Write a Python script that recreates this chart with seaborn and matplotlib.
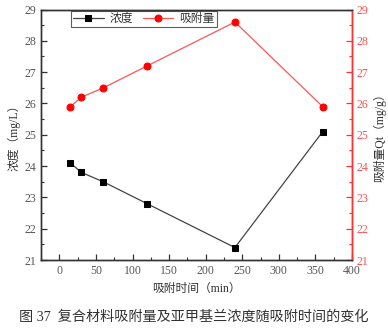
import matplotlib
matplotlib.use("Agg")
import matplotlib.pyplot as plt
import seaborn as sns
import pandas as pd
from matplotlib.ticker import MultipleLocator

# adsorption time (min)
time_min = [15, 30, 60, 120, 240, 360]
# methylene blue concentration (mg/L)
concentration = [24.1, 23.8, 23.5, 22.8, 21.4, 25.1]
# adsorption capacity Qt (mg/g)
capacity = [25.9, 26.2, 26.5, 27.2, 28.6, 25.9]

df = pd.DataFrame({"t": time_min, "c": concentration, "q": capacity})

sns.set_theme(style="white")
plt.rcParams["font.family"] = ["Liberation Serif", "Noto Sans CJK SC"]
plt.rcParams["axes.unicode_minus"] = False

fig = plt.figure(figsize=(3.88, 3.28), dpi=100)
ax = fig.add_axes([0.106, 0.207, 0.801, 0.764])
ax2 = ax.twinx()

sns.lineplot(data=df, x="t", y="c", ax=ax, color="#444444", lw=0.9,
             marker="s", markersize=4.5, markerfacecolor="black",
             markeredgecolor="black", label="浓度", legend=False)
sns.lineplot(data=df, x="t", y="q", ax=ax2, color="#ff5555", lw=0.9,
             marker="o", markersize=5, markerfacecolor="red",
             markeredgecolor="red", label="吸附量", legend=False)

ax.set_xlim(-25, 400)
ax.set_ylim(21, 29)
ax2.set_ylim(21, 29)
ax.xaxis.set_major_locator(MultipleLocator(50))
ax.xaxis.set_minor_locator(MultipleLocator(25))
ax.yaxis.set_major_locator(MultipleLocator(1))
ax.yaxis.set_minor_locator(MultipleLocator(0.5))
ax2.yaxis.set_major_locator(MultipleLocator(1))
ax2.yaxis.set_minor_locator(MultipleLocator(0.5))

for a in (ax, ax2):
    for s in a.spines.values():
        s.set_color("#333333")
        s.set_linewidth(1.0)
ax2.spines["right"].set_color("#ff3333")

ax.tick_params(axis="both", which="major", direction="in", length=4, width=0.9,
               colors="#333333", labelsize=8.5, labelcolor="#555555",
               bottom=True, left=True, top=False, right=False)
ax.tick_params(axis="both", which="minor", direction="in", length=2, width=0.8,
               colors="#333333", bottom=True, left=True, top=False, right=False)
ax2.tick_params(axis="y", which="major", direction="in", length=4, width=0.9,
                colors="#ff3333", labelsize=8.5, labelcolor="#ff5050",
                right=True, left=False)
ax2.tick_params(axis="y", which="minor", direction="in", length=2, width=0.8,
                colors="#ff3333", right=True, left=False)

ax.set_xlabel("吸附时间（min）", fontsize=8.5, color="#333333", labelpad=4)
ax.set_ylabel("浓度（mg/L）", fontsize=8.5, color="#333333", labelpad=3)
ax2.set_ylabel("吸附量Qt（mg/g）", fontsize=8.5, color="#333333", labelpad=3)

h1, l1 = ax.get_legend_handles_labels()
h2, l2 = ax2.get_legend_handles_labels()
leg = ax.legend(h1 + h2, l1 + l2, loc="upper left", bbox_to_anchor=(0.095, 0.995),
                ncol=2, fontsize=8.5, frameon=True, fancybox=False,
                borderpad=0.2, handlelength=2.6, handletextpad=0.5,
                columnspacing=0.8, borderaxespad=0.0)
leg.get_frame().set_edgecolor("#333333")
leg.get_frame().set_linewidth(0.8)
for t in leg.get_texts():
    t.set_color("#333333")

fig.text(0.5, 0.034, "图 37  复合材料吸附量及亚甲基兰浓度随吸附时间的变化",
         ha="center", va="center", fontsize=10.2, color="#333333")

fig.savefig("out.png", dpi=100)
